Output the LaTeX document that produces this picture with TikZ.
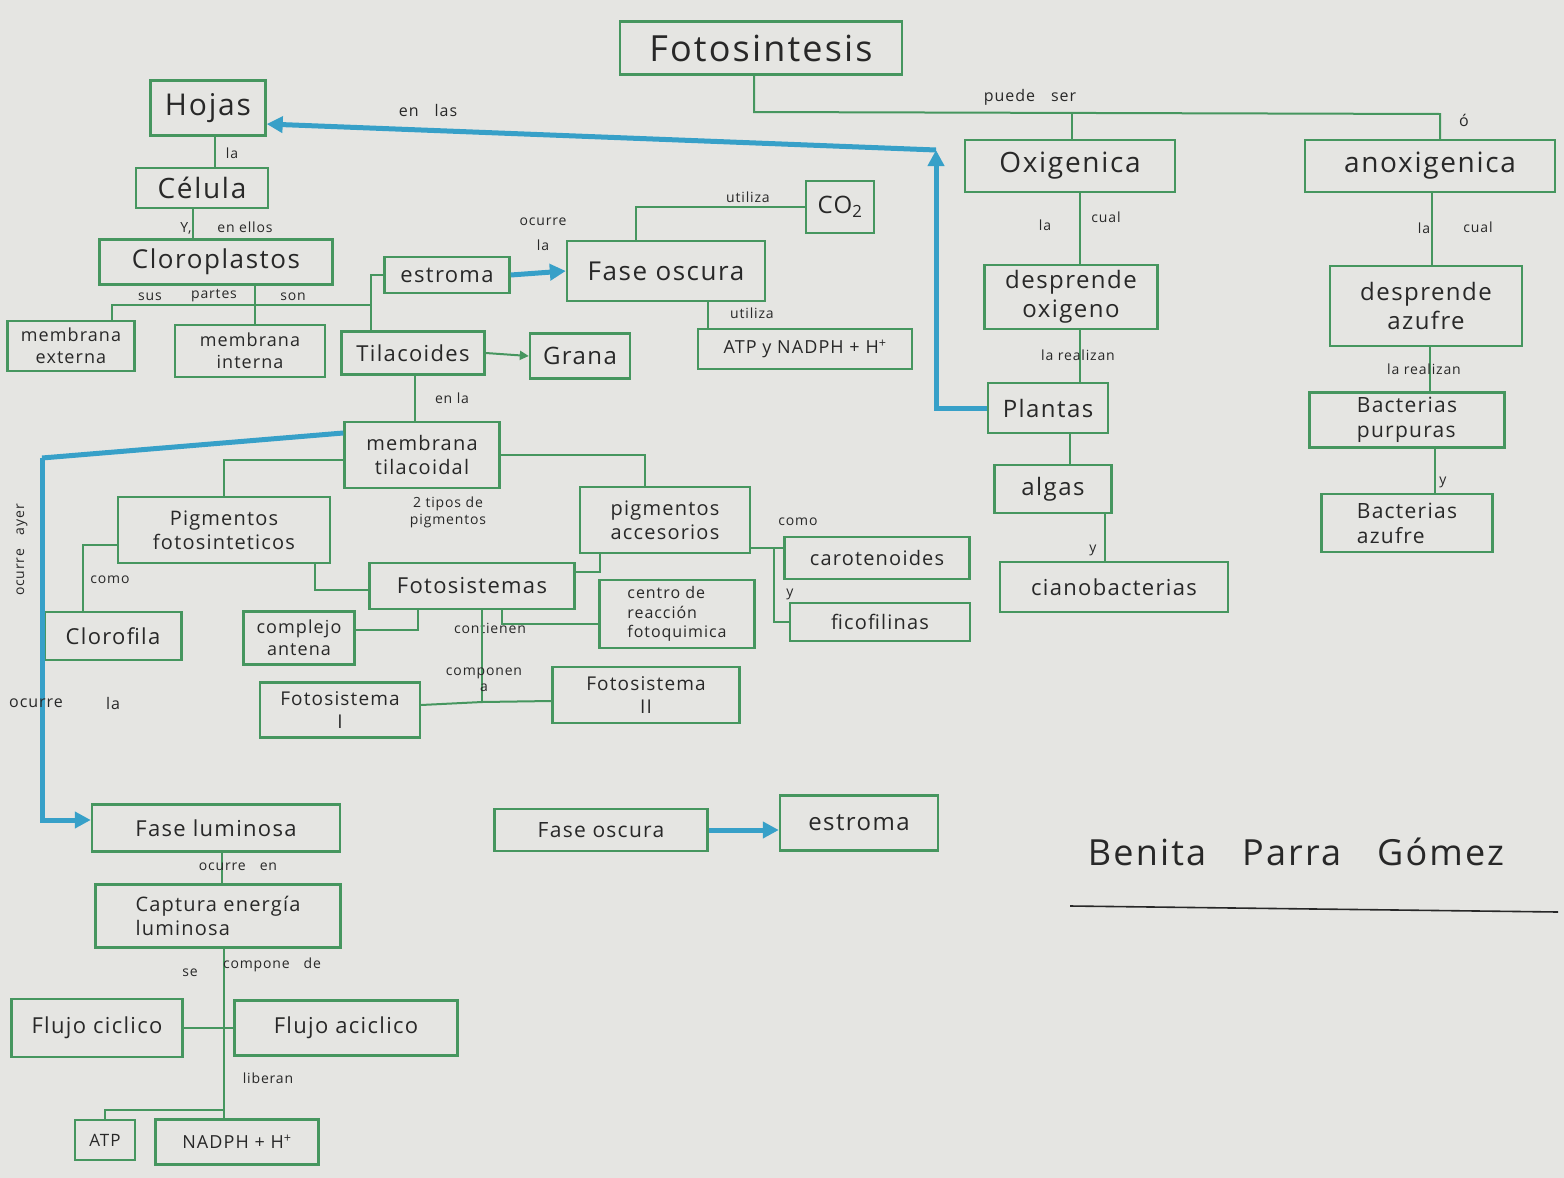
\documentclass[tikz,border=0pt]{standalone}
\usepackage{fontspec}
\setmainfont{Open Sans}[LetterSpace=6]
\usetikzlibrary{arrows.meta,calc}

\definecolor{paper}{RGB}{229,229,226}
\definecolor{pen}{RGB}{70,150,95}
\definecolor{marker}{RGB}{55,160,200}
\definecolor{ink}{RGB}{40,40,40}

\newcommand{\fs}[1]{\fontsize{#1}{\dimexpr #1pt*6/5\relax}\selectfont}

\tikzset{
  box/.style={draw=pen, line width=2.4pt, text=ink, align=center, inner sep=2pt},
  sz/.style 2 args={minimum width=#1, minimum height=#2},
  lbl/.style={text=ink, font=\fs{14}, inner sep=0pt},
  ln/.style={draw=pen, line width=2pt},
  lnarrow/.style={draw=pen, line width=2pt, -{Triangle[length=9pt,width=9pt]}},
  blu/.style={draw=marker, line width=5pt},
  bluarrow/.style={draw=marker, line width=5pt, -{Triangle[length=16pt,width=16pt]}},
}

\begin{document}
\begin{tikzpicture}[x=1pt,y=-1pt]
  % paper
  \fill[paper] (0,0) rectangle (1564,1178);
  \useasboundingbox (0,0) rectangle (1564,1178);

  % ---------- boxes ----------
  \node[box, sz={282}{53}, font=\fs{36}] (fot) at (761,48) {Fotosintesis};
  \node[box, sz={115}{55}, font=\fs{30}] (hoj) at (208,108) {Hojas};
  \node[box, sz={132}{40}, font=\fs{28}] (cel) at (202,188) {Célula};
  \node[box, sz={233}{45}, font=\fs{26}] (clo) at (216,262) {Cloroplastos};
  \node[box, sz={127}{50}, font=\fs{18}] (mext) at (71,346) {membrana\\externa};
  \node[box, sz={150}{52}, font=\fs{18}] (mint) at (250,351) {membrana\\interna};
  \node[box, sz={143}{43}, font=\fs{22}] (til) at (413,353) {Tilacoides};
  \node[box, sz={100}{45}, font=\fs{24}] (gra) at (580,356) {Grana};
  \node[box, sz={125}{36}, font=\fs{22}] (est1) at (447,275) {estroma};
  \node[box, sz={198}{60}, font=\fs{26}] (fo1) at (666,271) {Fase oscura};
  \node[box, sz={68}{52}, font=\fs{24}] (co2) at (840,207) {CO\textsubscript{2}};
  \node[box, sz={214}{40}, font=\fs{18}] (atp1) at (805,349) {ATP y NADPH + H\textsuperscript{+}};

  \node[box, sz={210}{52}, font=\fs{28}] (oxi) at (1070,166) {Oxigenica};
  \node[box, sz={250}{52}, font=\fs{28}] (anox) at (1430,166) {anoxigenica};
  \node[box, sz={173}{64}, font=\fs{24}] (dox) at (1071,297) {desprende\\oxigeno};
  \node[box, sz={192}{80}, font=\fs{24}] (daz) at (1426,306) {desprende\\azufre};
  \node[box, sz={120}{50}, font=\fs{24}] (pla) at (1048,408) {Plantas};
  \node[box, sz={117}{48}, font=\fs{24}] (alg) at (1053,489) {algas};
  \node[box, sz={228}{50}, font=\fs{22}] (cia) at (1114,587) {cianobacterias};
  \node[box, sz={195}{55}, font=\fs{21}, align=left] (bpu) at (1407,420) {Bacterias\\purpuras};
  \node[box, sz={171}{58}, font=\fs{21}, align=left] (baz) at (1407,523) {Bacterias\\azufre};

  \node[box, sz={155}{66}, font=\fs{20}] (mtil) at (422,455) {membrana\\tilacoidal};
  \node[box, sz={212}{66}, font=\fs{20}] (pfot) at (224,530) {Pigmentos\\fotosinteticos};
  \node[box, sz={170}{66}, font=\fs{20}] (pacc) at (665,520) {pigmentos\\accesorios};
  \node[box, sz={205}{46}, font=\fs{22}] (fsis) at (472,586) {Fotosistemas};
  \node[box, sz={185}{42}, font=\fs{20}] (car) at (877,558) {carotenoides};
  \node[box, sz={180}{38}, font=\fs{20}] (fic) at (880,622) {ficofilinas};
  \node[box, sz={137}{48}, font=\fs{22}] (clf) at (113,636) {Clorofila};
  \node[box, sz={111}{53}, font=\fs{18}] (cant) at (299,638) {complejo\\antena};
  \node[box, sz={155}{68}, font=\fs{16}, align=left] (crf) at (677,614) {centro de\\reacción\\fotoquimica};
  \node[box, sz={160}{55}, font=\fs{19}] (fs1) at (340,710) {Fotosistema\\I};
  \node[box, sz={187}{56}, font=\fs{19}] (fs2) at (646,695) {Fotosistema\\II};

  \node[box, sz={248}{47}, font=\fs{22}] (flu) at (216,828) {Fase luminosa};
  \node[box, sz={245}{63}, font=\fs{20}, align=left] (cap) at (218,916) {Captura energía\\luminosa};
  \node[box, sz={171}{58}, font=\fs{22}] (fci) at (97,1028) {Flujo ciclico};
  \node[box, sz={223}{55}, font=\fs{22}] (fac) at (346,1028) {Flujo aciclico};
  \node[box, sz={60}{40}, font=\fs{17}] (atp2) at (105,1140) {ATP};
  \node[box, sz={163}{45}, font=\fs{18}] (nad) at (237,1142) {NADPH + H\textsuperscript{+}};

  \node[box, sz={213}{42}, font=\fs{21}] (fo2) at (601,830) {Fase oscura};
  \node[box, sz={158}{55}, font=\fs{24}] (est2) at (859,823) {estroma};

  % ---------- Fotosintesis: puede ser oxigenica o anoxigenica ----------
  \coordinate (jt) at (754,112);
  \coordinate (jo) at (1072,113);
  \coordinate (ja) at (1440,114);
  \draw[ln] (fot.south -| jt) -- (jt) -- (ja) -- (ja |- anox.north);
  \draw[ln] (jo) -- (jo |- oxi.north);
  \node[lbl, font=\fs{16}] (l-puede) at (1030,97) {puede\quad ser};
  \node[lbl, font=\fs{16}] (l-o) at (1464,120) {ó};

  \draw[ln] ([xshift=10]oxi.south) -- ([xshift=10]oxi.south |- dox.north);
  \node[lbl] (l-la1) at (1045,225) {la};
  \node[lbl] (l-cual1) at (1106,217) {cual};
  \draw[ln] ([xshift=2]anox.south) -- ([xshift=2]anox.south |- daz.north);
  \node[lbl] (l-la2) at (1424,228) {la};
  \node[lbl] (l-cual2) at (1478,227) {cual};

  \draw[ln] ([xshift=9]dox.south) -- ([xshift=9]dox.south |- pla.north);
  \node[lbl] (l-real1) at (1078,355) {la realizan};
  \draw[ln] ([xshift=4]daz.south) -- ([xshift=4]daz.south |- bpu.north);
  \node[lbl] (l-real2) at (1424,369) {la realizan};

  \draw[ln] ([xshift=22]pla.south) -- ([xshift=22]pla.south |- alg.north);
  \draw[ln] ([xshift=52]alg.south) -- ([xshift=52]alg.south |- cia.north);
  \node[lbl] (l-y1) at (1093,550) {y};
  \draw[ln] ([xshift=28]bpu.south) -- ([xshift=28]bpu.south |- baz.north);
  \node[lbl] (l-y2) at (1443,482) {y};

  % ---------- plantas -> hojas (marker) ----------
  \coordinate (bc) at (936,150);
  \draw[bluarrow] (pla.west) -| (bc);
  \draw[bluarrow] (bc) -- ([yshift=-16]hoj.east);
  \node[lbl, font=\fs{16}] (l-enlas) at (428,110) {en\quad las};

  % ---------- hojas, celula, cloroplastos ----------
  \draw[ln] ([xshift=7]hoj.south) -- ([xshift=7]hoj.south |- cel.north);
  \node[lbl] (l-la3) at (232,153) {la};
  \draw[ln] ([xshift=-9]cel.south) -- ([xshift=-9]cel.south |- clo.north);
  \node[lbl] (l-y3) at (186,228) {Y,};
  \node[lbl] (l-enellos) at (245,227) {en ellos};

  \coordinate (jl) at (112,305);
  \coordinate (jp) at (255,305);
  \coordinate (jr) at (371,305);
  \draw[ln] (clo.south -| jp) -- (jp);
  \draw[ln] (jl |- mext.north) -- (jl) -- (jr);
  \draw[ln] (jp) -- (jp |- mint.north);
  \draw[ln] (est1.west) -| (jr) -- (jr |- til.north);
  \node[lbl] (l-sus) at (150,297) {sus};
  \node[lbl] (l-partes) at (214,296) {partes};
  \node[lbl] (l-son) at (293,297) {son};

  % ---------- estroma, fase oscura ----------
  \draw[bluarrow] (est1.east) -- (fo1.west);
  \node[lbl] (l-ocurre1) at (543,222) {ocurre};
  \node[lbl] (l-la4) at (543,245) {la};
  \draw[ln] ([xshift=-30]fo1.north) |- (co2.west);
  \node[lbl] (l-util1) at (748,197) {utiliza};
  \draw[ln] ([xshift=42]fo1.south) -- ([xshift=42]fo1.south |- atp1.north);
  \node[lbl] (l-util2) at (752,313) {utiliza};

  % ---------- tilacoides ----------
  \draw[lnarrow] (til.east) -- (gra.west);
  \draw[ln] ([xshift=2]til.south) -- ([xshift=2]til.south |- mtil.north);
  \node[lbl] (l-enla) at (452,398) {en la};

  % ---------- membrana tilacoidal ----------
  \draw[ln] ([yshift=-5]mtil.west) -| (pfot.north);
  \draw[ln] (mtil.east) -| ([xshift=-20]pacc.north);
  \node[lbl, align=center] (l-tipos) at (448,512) {2 tipos de\\pigmentos};

  \draw[ln] ([yshift=-15]pfot.west) -| ([xshift=-30]clf.north);
  \node[lbl] (l-como1) at (110,580) {como};
  \draw[ln] ([xshift=91]pfot.south) |- ([yshift=-4]fsis.west);
  \draw[ln] ([xshift=-65]pacc.south) |- ([yshift=14]fsis.east);

  \coordinate (jc) at (774,548);
  \draw[ln] ([yshift=-28]pacc.east) -- (jc) -- (jc -| car.west);
  \draw[ln] (jc) |- (fic.west);
  \node[lbl] (l-como2) at (798,522) {como};
  \node[lbl] (l-y4) at (790,594) {y};

  \draw[ln] ([xshift=-54]fsis.south) |- ([yshift=8]cant.east);
  \draw[ln] ([xshift=30]fsis.south) |- ([yshift=-10]crf.west);
  \node[lbl] (l-cont) at (490,628) {contienen};
  \coordinate (jf) at (482,702);
  \draw[ln] ([xshift=10]fsis.south) -- (jf);
  \draw[ln] ([yshift=5]fs1.east) -- (jf) -- ([yshift=-6]fs2.west);
  \node[lbl] (l-comp) at (484,673) {componen};
  \node[lbl] (l-a) at (484,688) {a};

  % ---------- membrana tilacoidal -> fase luminosa (marker) ----------
  \coordinate (bl) at (42,458);
  \draw[blu] ([yshift=22]mtil.west) -- (bl);
  \draw[bluarrow] (bl) |- ([yshift=8]flu.west);
  \node[lbl, rotate=90] (l-ocurre2) at (22,550) {ocurre\quad ayer};
  \node[lbl, font=\fs{16}] (l-ocurre3) at (36,703) {ocurre};
  \node[lbl, font=\fs{16}] (l-la5) at (113,703) {la};

  % ---------- fase luminosa ----------
  \draw[ln] ([xshift=6]flu.south) -- ([xshift=6]flu.south |- cap.north);
  \node[lbl] (l-ocen) at (238,867) {ocurre\quad en};
  \coordinate (jq) at (224,1028);
  \coordinate (jb) at (224,1110);
  \draw[ln] (cap.south -| jq) -- (jq) -- (jb) -- (jb |- nad.north);
  \draw[ln] (fci.east) -- (jq) -- (fac.west);
  \draw[ln] (jb) -| (atp2.north);
  \node[lbl] (l-se) at (190,973) {se};
  \node[lbl] (l-compde) at (272,965) {compone\quad de};
  \node[lbl] (l-lib) at (268,1078) {liberan};

  % ---------- fase oscura -> estroma ----------
  \draw[bluarrow] (fo2.east) -- (fo2.east -| est2.west);

  % ---------- firma ----------
  \node[text=ink, font=\fs{36}] (firma) at (1296,852) {Benita\quad Parra\quad Gómez};
  \draw[ink, line width=1.6pt] (1070,906) -- (1558,912);
\end{tikzpicture}
\end{document}
